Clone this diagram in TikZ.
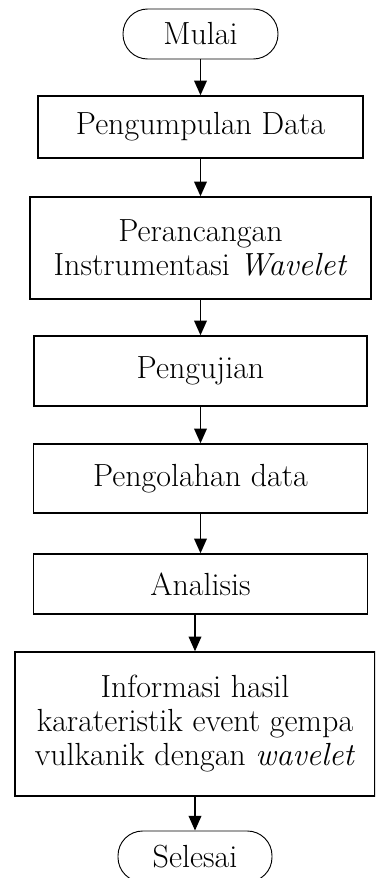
\documentclass[tikz,border=0pt]{standalone}
\usetikzlibrary{arrows.meta}
\begin{document}
\begin{tikzpicture}[x=0.75pt,y=-0.75pt,
  box/.style={draw, line width=1.1pt, inner sep=0pt, align=center,
    font=\fontsize{24}{25.5}\selectfont},
  term/.style={box, line width=0.7pt, rounded corners=18.5pt},
  arr/.style={line width=1.1pt, -{Triangle[length=11pt,width=9.5pt]}}]
  \useasboundingbox (0,0) rectangle (375,878);
  \clip (0,0) rectangle (375,878);
  % terminals and process boxes
  \node[term, minimum width=116.25pt, minimum height=37.5pt] (mulai) at (200.5,34) {Mulai};
  \node[box, minimum width=243.75pt, minimum height=46.5pt] (kumpul) at (200.5,127) {Pengumpulan Data};
  \node[box, minimum width=255.75pt, minimum height=76.5pt] (rancang) at (200.5,248)
    {Perancangan\\Instrumentasi \textit{Wavelet}};
  \node[box, minimum width=249.75pt, minimum height=52.5pt] (uji) at (200.5,371) {Pengujian};
  \node[box, minimum width=250.5pt, minimum height=51.75pt] (olah) at (200.5,478.5) {Pengolahan data};
  \node[box, minimum width=250.5pt, minimum height=45pt] (analisis) at (200.5,584) {Analisis};
  \node[box, minimum width=270pt, minimum height=108pt] (info) at (195,724)
    {Informasi hasil\\karateristik event gempa\\vulkanik dengan \textit{wavelet}};
  \node[term, minimum width=115.5pt, minimum height=38.25pt] (selesai) at (195,856.5) {Selesai};
  % flow connectors
  \draw[arr] (mulai) -- (kumpul);
  \draw[arr] (kumpul) -- (rancang);
  \draw[arr] (rancang) -- (uji);
  \draw[arr] (uji) -- (olah);
  \draw[arr] (olah) -- (analisis);
  \draw[arr] (analisis.south -| info.south) -- (info.north);
  \draw[arr] (info) -- (selesai);
\end{tikzpicture}
\end{document}
